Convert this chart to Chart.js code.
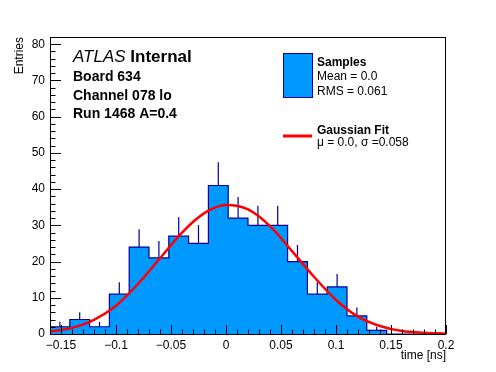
<!DOCTYPE html>
<html>
<head>
<meta charset="utf-8">
<script src="https://cdn.jsdelivr.net/npm/chart.js@4.4.1/dist/chart.umd.min.js"></script>
<style>
  html, body { margin: 0; padding: 0; background: #fff; }
  #wrap { width: 496px; height: 372px; }
</style>
</head>
<body>
<div id="wrap"><canvas id="histChart" width="496" height="372"></canvas></div>
<script>
// histogram bins (time in ns) and entries
const binEdges = [-0.16, -0.142, -0.124, -0.106, -0.088, -0.07, -0.052, -0.034, -0.016, 0.002,
                  0.02, 0.038, 0.056, 0.074, 0.092, 0.11, 0.128, 0.146, 0.164, 0.182, 0.2];
const counts = [2, 4, 2, 11, 24, 21, 27, 25, 41, 32, 30, 30, 20, 11, 13, 5, 1, 0, 0, 0];
const errUp  = [1.4, 2, 1.4, 3.3, 4.9, 4.7, 5.3, 5.1, 6.4, 5.8, 5.4, 5.4, 4.6, 3.3, 3.6, 2.3, 1, 0, 0, 0];

// gaussian fit curve, sampled off the plot
const fitX = [-0.16, -0.14, -0.12, -0.1, -0.08, -0.06, -0.04, -0.02, 0, 0.02,
              0.04, 0.06, 0.08, 0.1, 0.12, 0.14, 0.16, 0.18, 0.2];
const fitY = [0.7, 1.7, 3.9, 7.8, 13.8, 20.9, 28.0, 33.3, 35.6, 34.4,
              29.8, 22.9, 15.8, 9.4, 4.8, 2.2, 0.8, 0.35, 0.1];

const xTicks = [-0.15, -0.1, -0.05, 0, 0.05, 0.1, 0.15, 0.2];
const xTickLabels = ["\u22120.15", "\u22120.1", "\u22120.05", "0", "0.05", "0.1", "0.15", "0.2"];
const yTicks = [0, 10, 20, 30, 40, 50, 60, 70, 80];

const FONT = '"Liberation Sans", Arial, Helvetica, sans-serif';
Chart.defaults.font.family = FONT;
Chart.defaults.color = "#000";

const histPts = binEdges.map((e, i) => ({ x: e, y: counts[Math.min(i, counts.length - 1)] }));
const errPts = [];
counts.forEach((n, i) => {
    const c = (binEdges[i] + binEdges[i + 1]) / 2;
    errPts.push({ x: c, y: n }, { x: c, y: n + errUp[i] }, { x: c, y: null });
});
const fitPts = fitX.map((x, i) => ({ x: x, y: fitY[i] }));

// ROOT style frame with inward ticks
const frame = {
    id: "frame",
    afterDatasetsDraw(chart) {
        const { ctx, chartArea: a, scales: { x, y } } = chart;
        ctx.save();
        ctx.strokeStyle = "#000";
        ctx.lineWidth = 1;
        ctx.beginPath();
        for (let k = 0; k <= 82; k += 2) {
            const py = Math.round(y.getPixelForValue(k)) + 0.5;
            const len = k % 10 === 0 ? 11 : 5.5;
            ctx.moveTo(a.left, py); ctx.lineTo(a.left + len, py);
        }
        for (let k = -16; k <= 20; k++) {
            const px = Math.round(x.getPixelForValue(k / 100)) + 0.5;
            const len = k % 5 === 0 ? 9 : 4.5;
            ctx.moveTo(px, a.bottom); ctx.lineTo(px, a.bottom - len);
        }
        ctx.stroke();
        ctx.strokeRect(Math.round(a.left) + 0.5, Math.round(a.top) + 0.5,
                       Math.round(a.right - a.left) - 1, Math.round(a.bottom - a.top));
        ctx.restore();
    },
    afterDraw(chart) {
        const ctx = chart.ctx;
        ctx.save();
        ctx.fillStyle = "#000";
        ctx.textBaseline = "alphabetic";
        ctx.font = "italic 17px " + FONT;
        ctx.fillText("ATLAS", 73, 62);
        const w = ctx.measureText("ATLAS ").width;
        ctx.font = "bold 17px " + FONT;
        ctx.fillText("Internal", 73 + w, 62);
        ctx.font = "bold 14px " + FONT;
        ctx.fillText("Board 634", 73, 81);
        ctx.fillText("Channel 078 lo", 73, 99.5);
        ctx.fillText("Run 1468 A=0.4", 73, 118);

        // legend
        ctx.fillStyle = "rgb(0,153,255)";
        ctx.fillRect(283, 53, 29, 44);
        ctx.strokeStyle = "#000099";
        ctx.lineWidth = 1;
        ctx.strokeRect(283.5, 53.5, 29, 44);
        ctx.strokeStyle = "#ff0000";
        ctx.lineWidth = 3;
        ctx.beginPath(); ctx.moveTo(283, 136); ctx.lineTo(312, 136); ctx.stroke();
        ctx.fillStyle = "#000";
        ctx.font = "bold 12px " + FONT;
        ctx.fillText("Samples", 317, 66);
        ctx.fillText("Gaussian Fit", 317, 134);
        ctx.font = "12px " + FONT;
        ctx.fillText("Mean = 0.0", 317, 80);
        ctx.fillText("RMS = 0.061", 317, 94.5);
        ctx.fillText("\u03bc = 0.0, \u03c3 =0.058", 317, 146);
        ctx.restore();
    }
};

new Chart(document.getElementById("histChart").getContext("2d"), {
    type: "line",
    data: {
        datasets: [
            {
                label: "Samples",
                data: histPts,
                stepped: true,
                fill: "origin",
                backgroundColor: "rgb(0,153,255)",
                borderColor: "#000099",
                borderWidth: 1.2,
                pointRadius: 0,
                order: 3
            },
            {
                label: "errors",
                data: errPts,
                borderColor: "#000099",
                borderWidth: 1.2,
                pointRadius: 0,
                spanGaps: false,
                fill: false,
                order: 2
            },
            {
                label: "Gaussian Fit",
                data: fitPts,
                borderColor: "#ff0000",
                borderWidth: 2.5,
                pointRadius: 0,
                cubicInterpolationMode: "monotone",
                fill: false,
                order: 1
            }
        ]
    },
    options: {
        responsive: false,
        animation: false,
        events: [],
        layout: { padding: { top: 37, right: 50, left: 0, bottom: 0 } },
        plugins: { legend: { display: false }, tooltip: { enabled: false } },
        scales: {
            x: {
                type: "linear",
                min: -0.16,
                max: 0.2,
                grid: { display: false, drawTicks: false, tickLength: 0 },
                border: { display: false },
                afterBuildTicks: s => { s.ticks = xTicks.map(v => ({ value: v })); },
                afterFit: s => { s.height = 38; },
                ticks: {
                    callback: (v, i) => xTickLabels[i],
                    font: { size: 12 },
                    padding: 4,
                    maxRotation: 0,
                    autoSkip: false
                },
                title: {
                    display: true,
                    text: "time [ns]",
                    align: "end",
                    font: { size: 12 },
                    padding: { top: 0, bottom: 9 }
                }
            },
            y: {
                min: 0,
                max: 82,
                grid: { display: false, drawTicks: false, tickLength: 0 },
                border: { display: false },
                afterBuildTicks: s => { s.ticks = yTicks.map(v => ({ value: v })); },
                afterFit: s => { s.width = 50; },
                ticks: { font: { size: 12 }, padding: 5 },
                title: {
                    display: true,
                    text: "Entries",
                    align: "end",
                    font: { size: 12 },
                    padding: { top: 12, bottom: 0 }
                }
            }
        }
    },
    plugins: [frame]
});
</script>
</body>
</html>
